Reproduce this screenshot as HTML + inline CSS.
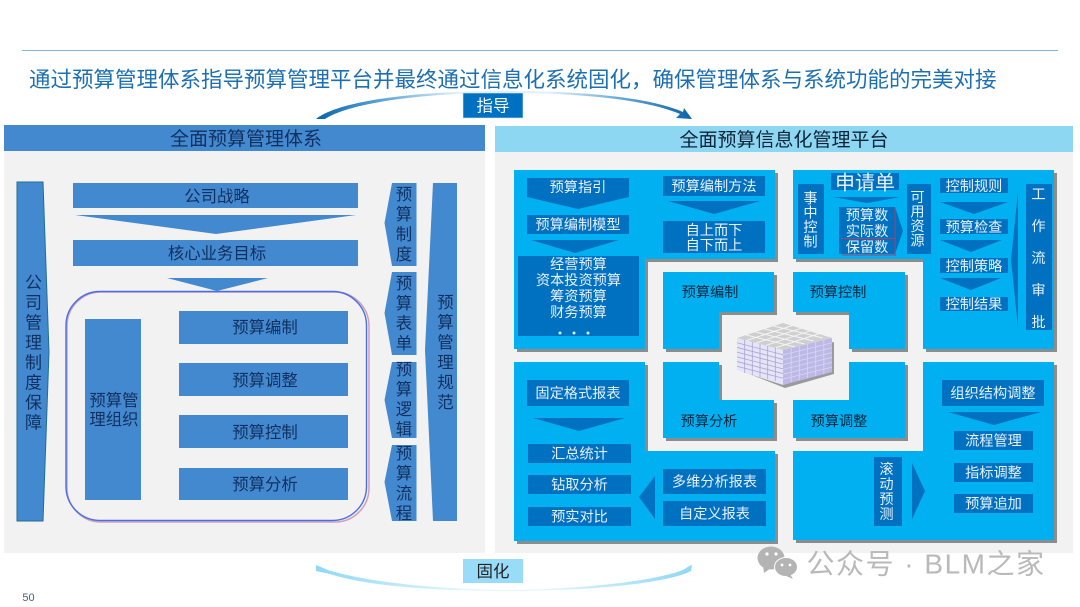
<!DOCTYPE html>
<html lang="zh-CN">
<head>
<meta charset="utf-8">
<style>
html,body{margin:0;padding:0;background:#fff;width:1080px;height:607px;overflow:hidden}
svg{display:block}
text{font-family:"Liberation Sans","Noto Sans CJK SC",sans-serif;dominant-baseline:central;text-anchor:middle;transform:translateY(1px)}
.d{fill:#11305f;font-size:16.4px}
.w{fill:#e6f1fb;font-size:14.2px}
.k{fill:#06263f;font-size:14.2px}
.v{writing-mode:vertical-rl;text-anchor:start;dominant-baseline:auto;transform:translate(-1.5px,-.5px)}
.b{fill:#4389d0}
.c{fill:#00b0f0}
.n{fill:#0070c0}
</style>
</head>
<body>
<svg width="1080" height="607" viewBox="0 0 1080 607" xmlns="http://www.w3.org/2000/svg">
<defs>
<linearGradient id="tg" x1="0" x2="1" y1="0" y2="0">
<stop offset="0" stop-color="#0a64a8"/><stop offset=".18" stop-color="#5fa6d8"/><stop offset=".38" stop-color="#e4f0f9"/><stop offset=".62" stop-color="#e4f0f9"/><stop offset=".82" stop-color="#5fa6d8"/><stop offset="1" stop-color="#0a64a8"/>
</linearGradient>
<linearGradient id="bg" x1="0" x2="1" y1="0" y2="0">
<stop offset="0" stop-color="#8fd8f5"/><stop offset=".4" stop-color="#e4f6fd"/><stop offset=".6" stop-color="#e4f6fd"/><stop offset="1" stop-color="#8fd8f5"/>
</linearGradient>
<path id="g6" d="M.167 0V1M.333 0V1M.5 0V1M.667 0V1M.833 0V1M0 .143H1M0 .286H1M0 .429H1M0 .571H1M0 .714H1M0 .857H1" fill="none" vector-effect="non-scaling-stroke"/>
<path id="g5" d="M.2 0V1M.4 0V1M.6 0V1M.8 0V1M0 .2H1M0 .4H1M0 .6H1M0 .8H1" fill="none" vector-effect="non-scaling-stroke"/>
</defs>

<rect width="1080" height="607" fill="#fff"/>
<rect x="22" y="50" width="1036" height="1" fill="#7fb5e2"/>
<text x="29" y="79" font-size="21.5" fill="#1d6fb4" style="text-anchor:start">通过预算管理体系指导预算管理平台并最终通过信息化系统固化，确保管理体系与系统功能的完美对接</text>

<!-- top swoosh -->
<path d="M316 119C340 100 420 91 504 91C590 91 650 98 683 112L684 108L692 119L676 118L680 114C650 101 590 93 504 93C420 93 350 103 325 119Z" fill="url(#tg)"/>
<rect x="463" y="93" width="60" height="25" fill="#0070c0" stroke="#d8eaf7" stroke-width=".6"/>
<text x="493" y="105.500" font-size="16.5" fill="#f4f9fd">指导</text>

<!-- panels -->
<rect x="4" y="151" width="481" height="402" fill="#f2f2f2"/>
<rect x="4" y="125" width="481" height="26" fill="#4389d0"/>
<text x="246" y="138.500" font-size="19" fill="#11305f">全面预算管理体系</text>
<rect x="495" y="152" width="578" height="401" fill="#f2f2f2"/>
<rect x="495" y="126" width="578" height="26" fill="#8dd7f3"/>
<text x="784" y="139.500" font-size="19" fill="#0d2238">全面预算信息化管理平台</text>

<!-- left column -->
<polygon class="b" points="17,182 43,182 49,352 43,521 17,521" stroke="#1f6f8f" stroke-width="1"/>
<text class="d v" x="33" y="274" style="font-size:17px;letter-spacing:3px">公司管理制度保障</text>

<rect class="b" x="73" y="183" width="285" height="25"/>
<text class="d" x="217" y="196">公司战略</text>
<polygon class="b" points="75,215 356,215 216,234"/>
<rect class="b" x="73" y="240" width="285" height="26"/>
<text class="d" x="217" y="253">核心业务目标</text>
<polygon class="b" points="167,278 268,278 217,291"/>

<rect x="67" y="292" width="302" height="230" rx="34" fill="none" stroke="#cfa0b8" stroke-width="1.500"/>
<rect x="66" y="291.500" width="300.500" height="229" rx="34" fill="none" stroke="#4a6ee6" stroke-width="1.400"/>

<rect class="b" x="85" y="319" width="56" height="181"/>
<text class="d" x="114" y="400">预算管</text>
<text class="d" x="114" y="419">理组织</text>
<rect class="b" x="179" y="311" width="169" height="33"/>
<text class="d" x="265" y="327">预算编制</text>
<rect class="b" x="179" y="363" width="169" height="33"/>
<text class="d" x="265" y="380">预算调整</text>
<rect class="b" x="179" y="415" width="169" height="33"/>
<text class="d" x="265" y="432">预算控制</text>
<rect class="b" x="179" y="468" width="169" height="32"/>
<text class="d" x="265" y="484">预算分析</text>

<polygon class="b" points="392,183 416.500,183 416.500,266 392,266 384.500,223"/>
<text class="d v" x="403.500" y="186" style="letter-spacing:3.600px">预算制度</text>
<polygon class="b" points="392,272 416.500,272 416.500,355 392,355 384.500,313"/>
<text class="d v" x="403.500" y="275" style="letter-spacing:3.600px">预算表单</text>
<polygon class="b" points="392,362 416.500,362 416.500,438 392,438 384.500,400"/>
<text class="d v" x="403.500" y="361" style="letter-spacing:3.600px">预算逻辑</text>
<polygon class="b" points="392,445 416.500,445 416.500,521 392,521 384.500,482"/>
<text class="d v" x="403.500" y="445" style="letter-spacing:3.600px">预算流程</text>
<polygon class="b" points="433,183 457,183 457,521 433,521 425,350"/>
<text class="d v" x="445" y="294" style="letter-spacing:3.600px">预算管理规范</text>

<!-- right blocks shadows -->
<g fill="#8c8c8c" transform="translate(3,3)">
<polygon points="514,170 775,170 775,259 645,259 645,349 514,349"/>
<polygon points="663,272 774,272 774,312 719,312 719,349 663,349"/>
<polygon points="793,170 1054,170 1054,349 923,349 923,259 793,259"/>
<polygon points="793,272 905,272 905,349 849,349 849,312 793,312"/>
<polygon points="514,362 645,362 645,451 775,451 775,541 514,541"/>
<polygon points="663,362 719,362 719,400 774,400 774,438 663,438"/>
<polygon points="849,362 905,362 905,438 793,438 793,400 849,400"/>
<polygon points="923,362 1054,362 1054,540 793,540 793,451 923,451"/>
</g>
<polygon class="c" points="514,170 775,170 775,259 645,259 645,349 514,349"/>
<polygon class="c" points="663,272 774,272 774,312 719,312 719,349 663,349"/>
<polygon class="c" points="793,170 1054,170 1054,349 923,349 923,259 793,259"/>
<polygon class="c" points="793,272 905,272 905,349 849,349 849,312 793,312"/>
<polygon class="c" points="514,362 645,362 645,451 775,451 775,541 514,541"/>
<polygon class="c" points="663,362 719,362 719,400 774,400 774,438 663,438"/>
<polygon class="c" points="849,362 905,362 905,438 793,438 793,400 849,400"/>
<polygon class="c" points="923,362 1054,362 1054,540 793,540 793,451 923,451"/>

<text class="k" x="710" y="292">预算编制</text>
<text class="k" x="838" y="292">预算控制</text>
<text class="k" x="709" y="421">预算分析</text>
<text class="k" x="839" y="421">预算调整</text>

<!-- TL -->
<polygon class="n" points="527,178 629,178 629,197 578,209 527,197"/>
<text class="w" x="578" y="187">预算指引</text>
<rect class="n" x="527" y="215" width="102" height="19"/>
<text class="w" x="578" y="224.500">预算编制模型</text>
<polygon class="n" points="531,240 619,240 575,253"/>
<rect class="n" x="518" y="256" width="121" height="80"/>
<text class="w" x="578.500" y="264">经营预算</text>
<text class="w" x="578.500" y="280">资本投资预算</text>
<text class="w" x="578.500" y="296">筹资预算</text>
<text class="w" x="578.500" y="312">财务预算</text>
<circle cx="560" cy="333" r="1.500" fill="#dcebf7"/><circle cx="574" cy="333" r="1.500" fill="#dcebf7"/><circle cx="588" cy="333" r="1.500" fill="#dcebf7"/>
<rect class="n" x="663" y="176" width="102" height="20"/>
<text class="w" x="714" y="186">预算编制方法</text>
<polygon class="n" points="668,201 760,201 714,214"/>
<rect class="n" x="663" y="221" width="102" height="32"/>
<text class="w" x="714" y="230">自上而下</text>
<text class="w" x="714" y="245">自下而上</text>

<!-- TR -->
<rect class="n" x="798" y="184" width="26" height="70"/>
<text class="w v" x="811" y="191" style="letter-spacing:.3px">事中控制</text>
<rect class="n" x="831" y="173" width="68" height="17"/>
<text class="w" x="865" y="182.500" style="font-size:20px">申请单</text>
<polygon class="n" points="833,197 900,197 867,203"/>
<polygon class="n" points="839,207 895,207 903,231 895,254 839,254"/>
<text class="w" x="867" y="215">预算数</text>
<text class="w" x="867" y="231">实际数</text>
<text class="w" x="867" y="247">保留数</text>
<path d="M841 238.500H895M842 255H896M895 208V255" stroke="#a0446a" stroke-width="1" fill="none"/>
<rect class="n" x="907" y="184" width="24" height="70"/>
<text class="w v" x="918" y="190" style="letter-spacing:.3px">可用资源</text>
<rect class="n" x="940" y="178" width="68" height="15"/>
<text class="w" x="974" y="186">控制规则</text>
<polygon class="n" points="940,202 1008,202 974,214"/>
<rect class="n" x="940" y="219" width="68" height="15"/>
<text class="w" x="974" y="227">预算检查</text>
<polygon class="n" points="940,240 1002,240 971,252"/>
<rect class="n" x="940" y="258" width="68" height="15"/>
<text class="w" x="974" y="266">控制策略</text>
<polygon class="n" points="940,278 1001,278 971,290"/>
<rect class="n" x="940" y="297" width="68" height="14"/>
<text class="w" x="974" y="304">控制结果</text>
<polygon class="n" points="1018,192 1018,327 1011,260"/>
<rect class="n" x="1026" y="184" width="26" height="146"/>
<text class="w v" x="1039" y="187" style="letter-spacing:17.800px">工作流审批</text>

<!-- BL -->
<rect class="n" x="527" y="380" width="102" height="26"/>
<text class="w" x="578" y="393">固定格式报表</text>
<polygon class="n" points="533,418 625,418 579,431"/>
<rect class="n" x="528" y="444" width="103" height="19"/>
<text class="w" x="579.500" y="453.500">汇总统计</text>
<rect class="n" x="528" y="475" width="103" height="19"/>
<text class="w" x="579.500" y="484.500">钻取分析</text>
<rect class="n" x="528" y="507" width="103" height="19"/>
<text class="w" x="579.500" y="516.500">预实对比</text>
<polygon class="n" points="639,497 655,476 655,519"/>
<rect class="n" x="663" y="469" width="103" height="25"/>
<text class="w" x="714.500" y="481.500">多维分析报表</text>
<rect class="n" x="663" y="501" width="103" height="25"/>
<text class="w" x="714.500" y="513.500">自定义报表</text>

<!-- BR -->
<rect class="n" x="942" y="380" width="102" height="26"/>
<text class="w" x="993" y="393">组织结构调整</text>
<polygon class="n" points="948,412 1041,412 994,425"/>
<rect class="n" x="954" y="431" width="79" height="19"/>
<text class="w" x="993.500" y="440.500">流程管理</text>
<rect class="n" x="954" y="463" width="79" height="19"/>
<text class="w" x="993.500" y="472.500">指标调整</text>
<rect class="n" x="954" y="494" width="79" height="19"/>
<text class="w" x="993.500" y="503.500">预算追加</text>
<rect class="n" x="874" y="457" width="28" height="69"/>
<text class="w v" x="887" y="462" style="letter-spacing:.8px">滚动预测</text>
<polygon class="n" points="912,463 925,491 912,519"/>

<!-- cube -->
<polygon points="739,370 785,388 834,374 834,342 783,352 739,342" fill="#9a9a9a"/>
<polygon points="737,338 783,350 783,385 737,370" fill="#e6e4f8"/>
<polygon points="783,350 832,338 832,372 783,385" fill="#bdb9e6"/>
<polygon points="737,338 783,323 832,338 783,350" fill="#cfcfcf"/>
<g stroke="#f4f4f4" stroke-width="1">
<use href="#g5" transform="matrix(46 -15 49 12 737 338)"/>
</g>
<g stroke="#a9a6cf" stroke-width=".8">
<use href="#g6" transform="matrix(46 12 0 33 737 338)"/>
</g>
<g stroke="#d8d6f2" stroke-width=".8">
<use href="#g6" transform="matrix(49 -12 0 34 783 350)"/>
</g>

<!-- bottom swoosh -->
<path d="M316 565L328 570C370 583 440 589 504 590C570 590 650 582 680 571C686 569 688 566 692 565L691 571C670 582 600 591 504 591C420 591 360 584 330 574L316 571Z" fill="url(#bg)"/>
<rect x="463" y="559" width="60" height="24" fill="#99dcfa"/>
<text x="493" y="571" font-size="16.5" fill="#222">固化</text>

<text x="28.500" y="597" font-size="11" fill="#44607c">50</text>

<!-- watermark -->
<g fill="#b4b4b4">
<ellipse cx="771" cy="558" rx="13.500" ry="11.500"/>
<polygon points="763,566 764,573 771,568"/>
</g>
<g fill="#b4b4b4" stroke="#fff" stroke-width="1">
<ellipse cx="786" cy="567" rx="11.500" ry="9.500"/>
</g>
<polygon points="790,574 793,579 784,575" fill="#b4b4b4"/>
<g fill="#fff"><circle cx="767" cy="554" r="1.600"/><circle cx="776" cy="554" r="1.600"/><circle cx="782" cy="565" r="1.400"/><circle cx="790" cy="565" r="1.400"/></g>
<text x="926" y="563" font-size="28" fill="#b9b9b9" style="letter-spacing:1.500px">公众号 · BLM之家</text>
</svg>
</body>
</html>
